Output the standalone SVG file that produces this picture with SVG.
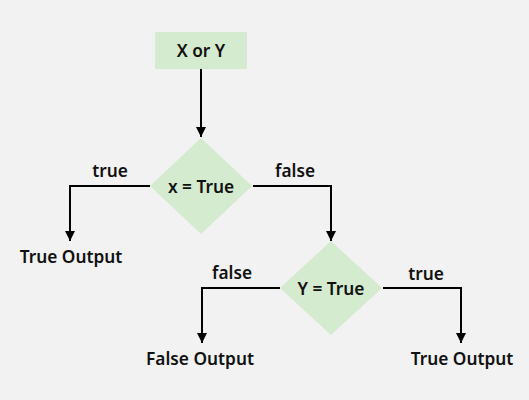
<svg xmlns="http://www.w3.org/2000/svg" width="529" height="400" viewBox="0 0 529 400">
<defs>
<marker id="arr" viewBox="0 0 10 10" refX="10" refY="5" markerWidth="10" markerHeight="10" markerUnits="userSpaceOnUse" orient="auto">
<path d="M0,0 L10,5 L0,10 z" fill="#000"/>
</marker>
</defs>
<style>
text{font-family:"Noto Sans","Open Sans",sans-serif;font-size:17.3px;font-weight:600;fill:#111;text-anchor:middle;dominant-baseline:central}
.shape{fill:#d5ebcf;stroke:none}
.conn{fill:none;stroke:#000;stroke-width:2}
</style>
<rect width="529" height="400" fill="#f2f2f2"/>
<g id="connectors">
<path class="conn" d="M201,69 V137" marker-end="url(#arr)"/>
<path class="conn" d="M150,186 H70 V241" marker-end="url(#arr)"/>
<path class="conn" d="M253,186 H331 V241" marker-end="url(#arr)"/>
<path class="conn" d="M280,288 H202 V343" marker-end="url(#arr)"/>
<path class="conn" d="M383,288 H461 V343" marker-end="url(#arr)"/>
<text x="110" y="170">true</text>
<text x="295" y="170">false</text>
<text x="232" y="272">false</text>
<text x="426" y="273">true</text>
</g>
<g id="start">
<rect class="shape" x="155" y="32" width="92" height="37"/>
<text x="201" y="50">X or Y</text>
</g>
<g id="decisionX">
<polygon class="shape" points="201,138 252,186 201,234 150,186"/>
<text x="201" y="186">x = True</text>
</g>
<g id="trueOutput1">
<text x="71" y="256">True Output</text>
</g>
<g id="decisionY">
<polygon class="shape" points="331,241 382,288 331,335 280,288"/>
<text x="331" y="288">Y = True</text>
</g>
<g id="falseOutput">
<text x="200" y="358">False Output</text>
</g>
<g id="trueOutput2">
<text x="462" y="358">True Output</text>
</g>
</svg>
